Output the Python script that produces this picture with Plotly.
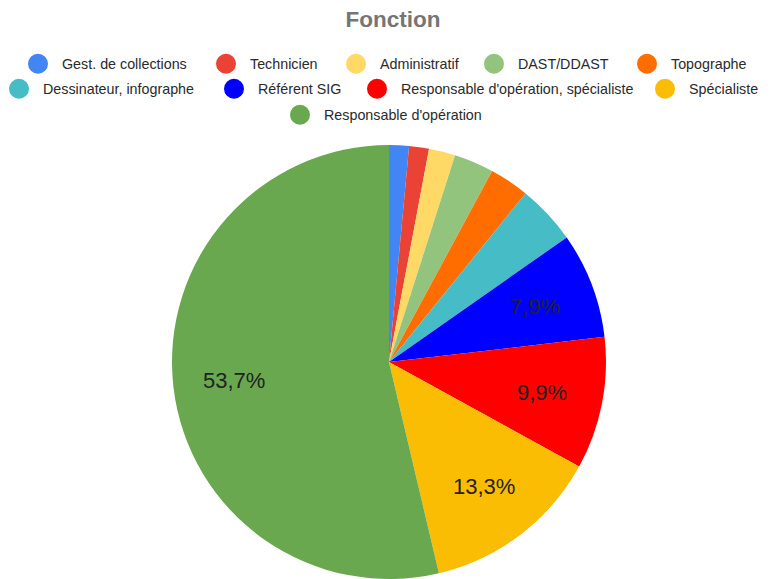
import math
import plotly.graph_objects as go

labels = ["Gest. de collections", "Technicien", "Administratif", "DAST/DDAST", "Topographe",
          "Dessinateur, infographe", "Référent SIG", "Responsable d'opération, spécialiste",
          "Spécialiste", "Responsable d'opération"]
values = [3, 3, 4, 6, 6, 9, 16, 20, 27, 109]
colors = ["#4285F4", "#EA4335", "#FFD966", "#93C47D", "#FF6D01",
          "#46BDC6", "#0000FF", "#FF0000", "#FBBC04", "#6AA84F"]
show_label = [False, False, False, False, False, False, True, True, True, True]

W, H = 770, 579
FONT = "Liberation Sans, Arial, sans-serif"
# pie geometry (figure pixels)
cx, cy, R = 381, 354, 217
# legend entry placement: (row y, symbol centre x) in figure pixels
legend_pos = [(56, 30), (56, 218), (56, 348), (56, 486), (56, 639),
              (81, 11), (81, 226), (81, 369), (81, 656),
              (107, 292)]
SYM_OFFSET = 24  # offset of symbol centre from legend left edge

fig = go.Figure()
fig.add_trace(go.Pie(
    labels=labels, values=values, sort=False, direction="clockwise", rotation=0,
    marker=dict(colors=colors, line=dict(width=0)),
    textinfo="none",
    showlegend=False, hoverinfo="label+percent",
    domain=dict(x=[(cx - R) / W, (cx + R) / W], y=[1 - (cy + R) / H, 1 - (cy - R) / H]),
))

# percentage labels placed at 72% of the radius, mid-angle of each slice
total = sum(values)
cum = 0
for v, s in zip(values, show_label):
    mid = (cum + v / 2) / total * 2 * math.pi
    cum += v
    if not s:
        continue
    px = cx + 0.72 * R * math.sin(mid)
    py = cy - 0.72 * R * math.cos(mid)
    pct = f"{v / total * 100:.1f}".replace(".", ",") + "%"
    fig.add_annotation(x=px / W, y=1 - py / H, xref="paper", yref="paper",
                       text=pct, showarrow=False, xanchor="center", yanchor="middle",
                       font=dict(family=FONT, size=22, color="#222222"))

leg_font = dict(family=FONT, size=14.3, color="#2a2a2a")
layout_legends = {}
for i, lab in enumerate(labels):
    name = "legend" if i == 0 else f"legend{i + 1}"
    fig.add_trace(go.Scatter(
        x=[None], y=[None], mode="markers", name=lab,
        marker=dict(color=colors[i], size=16, symbol="circle",
                    line=dict(color=colors[i], width=4)),
        legend=name, showlegend=True, hoverinfo="skip",
    ))
    ry, sx = legend_pos[i]
    layout_legends[name] = dict(
        orientation="h", x=(sx - SYM_OFFSET) / W, xanchor="left", y=1 - ry / H, yanchor="middle",
        yref="paper", xref="paper", font=leg_font, bgcolor="rgba(0,0,0,0)",
        itemsizing="trace", itemwidth=38, borderwidth=0,
    )
# last entry of row 2 sits against the right edge: anchor it on the right
# (measured: symbol centre lies 100 px left of the legend's right edge)
layout_legends["legend9"].update(x=(legend_pos[8][1] + 100) / W, xanchor="right")

fig.update_layout(
    width=W, height=H, margin=dict(l=0, r=0, t=0, b=0, autoexpand=False),
    paper_bgcolor="white", plot_bgcolor="white",
    title=dict(text="<b>Fonction</b>", x=0.5, xanchor="center", y=1 - 11 / H, yanchor="middle",
               yref="container",
               font=dict(family=FONT, size=22.5, color="#757575")),
    xaxis=dict(visible=False), yaxis=dict(visible=False),
    **layout_legends,
)

fig.write_html("out.html")
